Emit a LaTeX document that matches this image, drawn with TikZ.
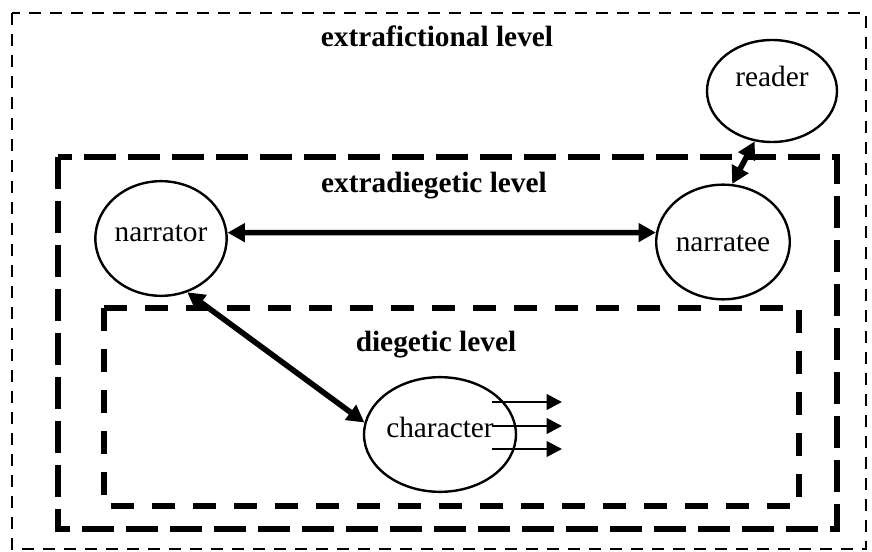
\documentclass[tikz,border=0pt]{standalone}
\usepackage{fontspec}
\setmainfont{Liberation Serif}
\usetikzlibrary{shapes.geometric}
\usetikzlibrary{arrows.meta}
\tikzset{x=0.75pt,y=-0.75pt,
    every node/.style={
        font=\fontsize{22}{26}\selectfont},
    person/.style={
        draw,
        ellipse,
        line width=1.8pt,
        inner sep=0pt,
        text height=6.8pt,
        text depth=2pt,
        minimum width=97.5pt,
        minimum height=86pt},
    level/.style={
        anchor=base,
        font=\fontsize{22}{26}\selectfont\bfseries},
    outerframe/.style={
        line width=2.2pt,
        dash pattern=on 9pt off 6.75pt},
    middleframe/.style={
        line width=3.8pt,
        dash pattern=on 24pt off 9pt},
    innerframe/.style={
        line width=4.6pt,
        dash pattern=on 17.25pt off 13.5pt},
    link/.style={
        draw,
        {Triangle[length=13pt,width=13.5pt]}-{Triangle[length=13pt,width=13.5pt]},
        line width=4.2pt},
    emit/.style={
        draw,
        -{Triangle[length=11.5pt,width=11.5pt]},
        line width=2.1pt}}

\begin{document}
\begin{tikzpicture}
        \useasboundingbox (0,0) rectangle (872,552);

        \draw[outerframe] (12,13) rectangle (866,549);
        \draw[middleframe] (58,157) rectangle (837,529);
        \draw[innerframe] (104,308) rectangle (799,506);

        \node[level] (extrafictional) at (437,47) {extrafictional level};
        \node[level] (extradiegetic) at (434,193) {extradiegetic level};
        \node[level] (diegetic) at (436,352) {diegetic level};

        \node[person,minimum height=76.5pt,text depth=12.8pt] (reader) at (772,91) {reader};
        \node[person] (narrator) at (161,238.5) {narrator};
        \node[person,text height=17pt] (narratee) at (723,242) {narratee};
        \node[person] (character) at (440,434.5) {character};

        \coordinate (from1) at (492,402);
        \coordinate (from2) at (492,426);
        \coordinate (from3) at (492,449);
        \coordinate (to1) at (562,402);
        \coordinate (to2) at (562,426);
        \coordinate (to3) at (562,449);

        \draw[link] (narrator.5) -- (narratee.172);
        \draw[link] (narrator.-64) -- (character.171);
        \draw[link] (narratee.81) -- (reader.251);

        \draw[emit] (from1) -- (to1);
        \draw[emit] (from2) -- (to2);
        \draw[emit] (from3) -- (to3);
    \end{tikzpicture}
\end{document}
